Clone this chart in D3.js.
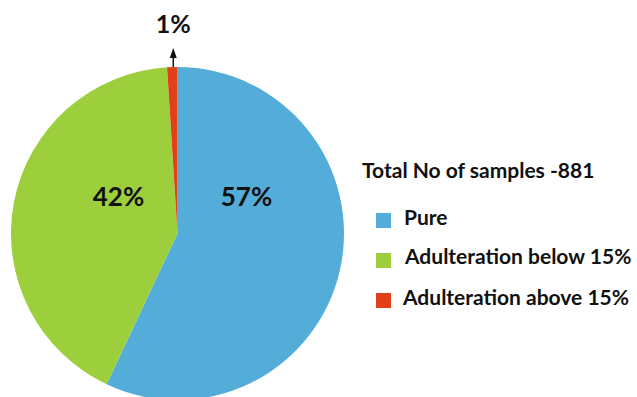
<!DOCTYPE html>
<html>
<head>
<meta charset="utf-8">
<script src="https://cdn.jsdelivr.net/npm/d3@7/dist/d3.min.js"></script>
<style>
  html, body { margin: 0; padding: 0; background: #fff; }
  svg { display: block; }
  text { font-family: Lato, "Open Sans", sans-serif; font-weight: 700; fill: #111; }
</style>
</head>
<body>
<svg id="chart" width="637" height="397"></svg>
<script>
// Sample composition (percent of all samples)
const categories = ["Pure", "Adulteration below 15%", "Adulteration above 15%"];
const shares = [57, 42, 1];
const shareLabels = ["57%", "42%", "1%"];
const colors = ["#54acd9", "#9dcf3d", "#e2401a"];
const legendTitle = "Total No of samples -881";

const svg = d3.select("#chart");
const cx = 177.5, cy = 233.5, radius = 166.5;

const pie = d3.pie().sort(null).value(d => d.value);
const arc = d3.arc().innerRadius(0).outerRadius(radius);
const data = pie(categories.map((c, i) => ({ name: c, value: shares[i], label: shareLabels[i], color: colors[i] })));

const g = svg.append("g").attr("transform", `translate(${cx},${cy})`);
g.selectAll("path.slice")
  .data(data)
  .join("path")
  .attr("class", "slice")
  .attr("d", arc)
  .attr("fill", d => d.data.color);

// In-slice labels for the two large slices
const inLabelPos = [[69, -38], [-59, -38]];
g.selectAll("text.pct")
  .data(data.slice(0, 2))
  .join("text")
  .attr("class", "pct")
  .attr("x", (d, i) => inLabelPos[i][0])
  .attr("y", (d, i) => inLabelPos[i][1])
  .attr("text-anchor", "middle")
  .attr("dominant-baseline", "central")
  .style("font-size", "26px")
  .text(d => d.data.label);

// Callout arrow for the small slice
const small = data[2];
const midA = (small.startAngle + small.endAngle) / 2;
const ax = radius * Math.sin(midA) + 1;
const ay0 = -radius * Math.cos(midA);
g.append("line")
  .attr("x1", ax).attr("y1", ay0)
  .attr("x2", ax).attr("y2", ay0 - 10)
  .attr("stroke", "#111").attr("stroke-width", 1.5);
g.append("path")
  .attr("d", `M${ax},${ay0 - 19} L${ax - 3.5},${ay0 - 9} L${ax + 3.5},${ay0 - 9} Z`)
  .attr("fill", "#111");
g.append("text")
  .attr("x", ax)
  .attr("y", ay0 - 34)
  .attr("text-anchor", "middle")
  .style("font-size", "25px")
  .text(small.data.label);

// Legend
const legend = svg.append("g").attr("transform", "translate(362,0)");
legend.append("text")
  .attr("x", 0).attr("y", 178)
  .style("font-size", "21px")
  .text(legendTitle);

const rowY = d3.scalePoint().domain(categories).range([213, 293]);
const rows = legend.selectAll("g.row")
  .data(data)
  .join("g")
  .attr("class", "row")
  .attr("transform", d => `translate(0,${rowY(d.data.name)})`);
rows.append("rect")
  .attr("x", 14).attr("y", 0)
  .attr("width", 15).attr("height", 15)
  .attr("fill", d => d.data.color);
rows.append("text")
  .attr("x", (d, i) => [42, 43, 41][i])
  .attr("y", (d, i) => [12, 11, 12][i])
  .style("font-size", "21px")
  .text(d => d.data.name);
</script>
</body>
</html>
